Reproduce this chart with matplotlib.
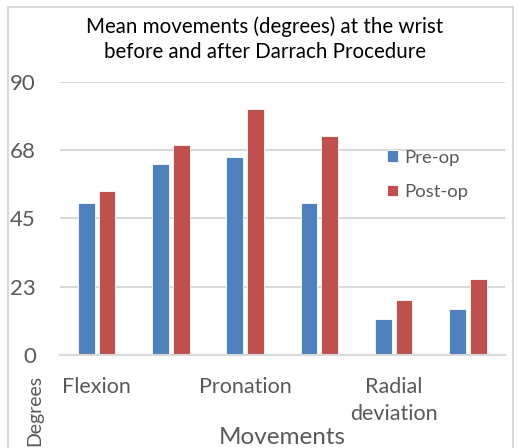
import matplotlib
matplotlib.use('Agg')
import matplotlib.pyplot as plt
import numpy as np
from matplotlib.patches import Rectangle

plt.rcParams['font.family'] = ['Lato', 'DejaVu Sans']

#%% data
labels = ['Flexion', '', 'Pronation', '', 'Radial\ndeviation', '']
pre_op = [50, 63, 65, 50, 12, 15]
post_op = [54, 69, 81, 72, 18, 25]
yticks = [0, 22.5, 45, 67.5, 90]
ytick_labels = ['0', '23', '45', '68', '90']

blue = '#4F81BD'
red = '#C0504D'
grey = '#595959'
grid_c = '#D9D9D9'

#%% figure
fig = plt.figure(figsize=(5.18, 4.48), dpi=100)
ax = fig.add_axes([59.5/518, 93/448, 445.5/518, 273.5/448])

x = np.arange(len(labels))
w = 0.225
off = 0.141
ax.bar(x - off, pre_op, w, color=blue, edgecolor='white', linewidth=0.6, label='Pre-op', zorder=3)
ax.bar(x + off, post_op, w, color=red, edgecolor='white', linewidth=0.6, label='Post-op', zorder=3)

ax.set_xlim(-0.5, len(labels) - 0.5)
ax.set_ylim(0, 90)
ax.set_yticks(yticks)
ax.set_yticklabels(ytick_labels)
ax.set_xticks(x)
ax.set_xticklabels(labels, linespacing=1.45)
ax.tick_params(axis='y', length=0, pad=17, labelsize=16, labelcolor=grey)
ax.tick_params(axis='x', length=0, pad=16, labelsize=15.5, labelcolor=grey)
ax.yaxis.grid(True, color=grid_c, linewidth=1.5, zorder=0)
for s in ['top', 'right', 'left']:
    ax.spines[s].set_visible(False)
ax.spines['bottom'].set_color(grid_c)
ax.spines['bottom'].set_linewidth(1.5)
ax.spines['bottom'].set_zorder(4)

fig.text(265/518, 1 - 39/448, 'Mean movements (degrees) at the wrist\nbefore and after Darrach Procedure',
         ha='center', va='center', fontsize=14.8, color='black', linespacing=1.3)
fig.text(282/518, 1 - 437/448, 'Movements', ha='center', va='center', fontsize=17.5, color=grey)
fig.text(35/518, 1 - 410/448, 'Degrees', ha='center', va='center', rotation=90, fontsize=14, color=grey)

ax.legend(loc='upper left', bbox_to_anchor=(370/518, 1 - 133/448), bbox_transform=fig.transFigure,
          frameon=False, fontsize=13.3, labelcolor=grey, handlelength=0.6, handleheight=0.6,
          handletextpad=0.35, labelspacing=1.0)

fig.patches.append(Rectangle((8/518, -0.01), (513-8)/518, 1 - 7/448 + 0.01, transform=fig.transFigure,
                             fill=False, edgecolor=grid_c, linewidth=1.5, zorder=0))

fig.savefig('out.png', dpi=100)
